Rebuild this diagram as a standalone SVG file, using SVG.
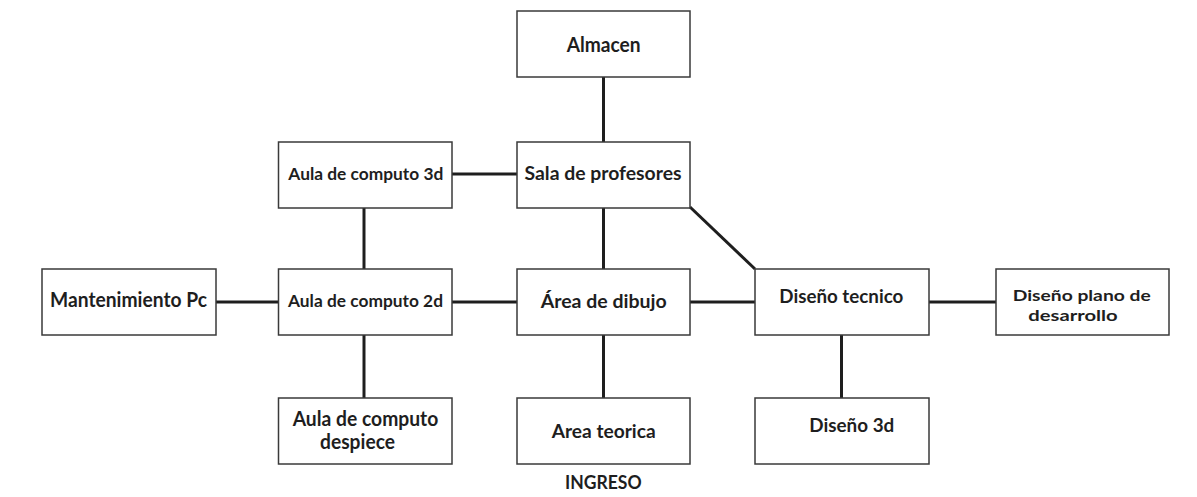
<svg xmlns="http://www.w3.org/2000/svg" width="1197" height="497" viewBox="0 0 1197 497">
<style>
.box{fill:#fff;stroke:#3a3a3a;stroke-width:1.5}
.t{font-family:Lato,"Open Sans","Liberation Sans",sans-serif;font-weight:bold;fill:#1e1e1e;text-anchor:middle}
.c{stroke:#1e1e1e;stroke-width:3;fill:none}
</style>
<rect width="1197" height="497" fill="#fff"/>
<g id="connectors">
<line class="c" x1="603.5" y1="77" x2="603.5" y2="142"/>
<line class="c" x1="452" y1="174" x2="517" y2="174"/>
<line class="c" x1="364" y1="208" x2="364" y2="269"/>
<line class="c" x1="603.5" y1="208" x2="603.5" y2="269"/>
<line class="c" x1="690" y1="207" x2="755" y2="269"/>
<line class="c" x1="216" y1="302" x2="278" y2="302"/>
<line class="c" x1="452" y1="302" x2="517" y2="302"/>
<line class="c" x1="690" y1="302" x2="755" y2="302"/>
<line class="c" x1="929" y1="302" x2="996" y2="302"/>
<line class="c" x1="364" y1="335" x2="364" y2="398"/>
<line class="c" x1="603.5" y1="335" x2="603.5" y2="398"/>
<line class="c" x1="841.5" y1="335" x2="841.5" y2="398"/>
</g>
<g id="almacen"><rect class="box" x="517" y="11" width="173" height="66"/><text class="t" x="603.7" y="51.7" font-size="20" textLength="74" lengthAdjust="spacingAndGlyphs">Almacen</text></g>
<g id="sala-profesores"><rect class="box" x="517" y="142" width="173" height="66"/><text class="t" x="603" y="180" font-size="19" textLength="157" lengthAdjust="spacingAndGlyphs">Sala de profesores</text></g>
<g id="aula-3d"><rect class="box" x="278.5" y="142" width="173.5" height="66"/><text class="t" x="365.8" y="180" font-size="17" textLength="155" lengthAdjust="spacingAndGlyphs">Aula de computo 3d</text></g>
<g id="mantenimiento"><rect class="box" x="42" y="269" width="174" height="66"/><text class="t" x="128.5" y="307" font-size="20" textLength="157" lengthAdjust="spacingAndGlyphs">Mantenimiento Pc</text></g>
<g id="aula-2d"><rect class="box" x="278.5" y="269" width="173.5" height="66"/><text class="t" x="365.5" y="306.7" font-size="17" textLength="155" lengthAdjust="spacingAndGlyphs">Aula de computo 2d</text></g>
<g id="area-dibujo"><rect class="box" x="517" y="269" width="173" height="66"/><text class="t" x="603.7" y="308.3" font-size="19" textLength="126" lengthAdjust="spacingAndGlyphs">Área de dibujo</text></g>
<g id="diseno-tecnico"><rect class="box" x="755" y="269" width="174" height="66"/><text class="t" x="841.3" y="302.7" font-size="19" textLength="124" lengthAdjust="spacingAndGlyphs">Diseño tecnico</text></g>
<g id="diseno-plano"><rect class="box" x="996" y="269" width="173" height="66"/><text class="t" x="1081.7" y="300.5" font-size="16" textLength="138" lengthAdjust="spacingAndGlyphs">Diseño plano de</text><text class="t" x="1073" y="320.5" font-size="16" textLength="89.4" lengthAdjust="spacingAndGlyphs">desarrollo</text></g>
<g id="aula-despiece"><rect class="box" x="278.5" y="398" width="173.5" height="66"/><text class="t" font-size="20"><tspan x="365.5" y="425.7" textLength="145.6" lengthAdjust="spacingAndGlyphs">Aula de computo</tspan><tspan x="357.5" y="449.3" textLength="75" lengthAdjust="spacingAndGlyphs">despiece</tspan></text></g>
<g id="area-teorica"><rect class="box" x="517" y="398" width="173" height="66"/><text class="t" x="603.7" y="438.3" font-size="19" textLength="104" lengthAdjust="spacingAndGlyphs">Area teorica</text></g>
<g id="diseno-3d"><rect class="box" x="755" y="398" width="174" height="66"/><text class="t" x="851.8" y="431.7" font-size="19" textLength="85" lengthAdjust="spacingAndGlyphs">Diseño 3d</text></g>
<g id="ingreso"><text class="t" x="603.3" y="489.3" font-size="18" textLength="76.7" lengthAdjust="spacingAndGlyphs">INGRESO</text></g>
</svg>
